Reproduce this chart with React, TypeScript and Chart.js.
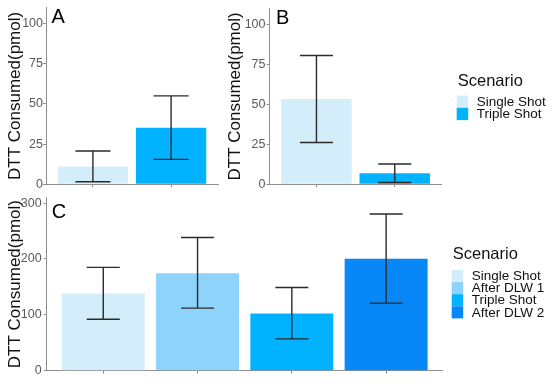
import React, { useEffect, useRef } from 'react';
import { Chart, registerables } from 'chart.js';

Chart.register(...registerables);

// ---- data ----
const scenariosAB = ['Single Shot', 'Triple Shot'];
const meanA = [11, 35.2];
const lowA = [1.6, 15.5];
const highA = [20.7, 55];

const meanB = [53.4, 6.9];
const lowB = [26.2, 1.1];
const highB = [80.6, 12.7];

const scenariosC = ['Single Shot', 'After DLW 1', 'Triple Shot', 'After DLW 2'];
const meanC = [138, 174.5, 102.5, 200.5];
const lowC = [92, 112, 57, 121];
const highC = [185, 238.5, 149, 280.5];

const ticksAB = [0, 25, 50, 75, 100];
const ticksC = [0, 100, 200, 300];

const colorsAB = ['#D4EDFB', '#00B2FF'];
const colorsC = ['#D4EDFB', '#8DD3FB', '#00B2FF', '#0888F7'];

const FONT = "'Liberation Sans', Arial, sans-serif";
const AXIS_COLOR = '#8f8f8f';

const errorBarPlugin = {
  id: 'errorBars',
  afterDatasetsDraw(chart: any, _args: any, opts: any) {
    const { ctx, scales } = chart;
    const x = scales.x;
    const y = scales.y;
    ctx.save();
    ctx.strokeStyle = opts.color;
    ctx.lineWidth = opts.lineWidth;
    opts.low.forEach((lo: number, i: number) => {
      const hi = opts.high[i];
      const px = x.getPixelForValue(i + 1);
      const pLo = y.getPixelForValue(lo);
      const pHi = y.getPixelForValue(hi);
      ctx.beginPath();
      ctx.moveTo(px, pLo);
      ctx.lineTo(px, pHi);
      ctx.moveTo(px - opts.half, pHi);
      ctx.lineTo(px + opts.half, pHi);
      ctx.moveTo(px - opts.half, pLo);
      ctx.lineTo(px + opts.half, pLo);
      ctx.stroke();
    });
    ctx.restore();
  },
};

const panelLabelPlugin = {
  id: 'panelLabel',
  afterDraw(chart: any, _args: any, opts: any) {
    const { ctx, chartArea } = chart;
    ctx.save();
    ctx.font = `20px ${FONT}`;
    ctx.fillStyle = '#000';
    ctx.textBaseline = 'alphabetic';
    ctx.textAlign = 'left';
    ctx.fillText(opts.text, chartArea.left + opts.dx, chartArea.top + opts.dy);
    ctx.restore();
  },
};

const scenarioLegendPlugin = {
  id: 'scenarioLegend',
  afterDraw(chart: any, _args: any, opts: any) {
    if (!opts.display) return;
    const { ctx, chartArea } = chart;
    const x0 = chartArea.right + opts.dx;
    ctx.save();
    ctx.fillStyle = '#111';
    ctx.textAlign = 'left';
    ctx.textBaseline = 'middle';
    ctx.font = `16.5px ${FONT}`;
    ctx.fillText(opts.title, x0 + 1, opts.titleY);
    ctx.font = `13.5px ${FONT}`;
    opts.labels.forEach((lab: string, i: number) => {
      const top = opts.rowTop + i * opts.rowH;
      ctx.fillStyle = opts.colors[i];
      ctx.fillRect(x0, top, 11.5, opts.rowH);
      ctx.fillStyle = '#111';
      ctx.fillText(lab, x0 + 20, top + opts.rowH / 2 + 0.5);
    });
    ctx.restore();
  },
};

function makeConfig(p: any) {
  const n = p.values.length;
  return {
    type: 'bar',
    data: {
      datasets: [
        {
          data: p.values.map((v: number, i: number) => ({ x: i + 1, y: v })),
          backgroundColor: p.colors,
          borderWidth: 0,
          categoryPercentage: 1,
          barPercentage: p.barPct,
        },
      ],
    },
    options: {
      responsive: false,
      animation: false,
      layout: { padding: p.padding },
      plugins: {
        legend: { display: false },
        tooltip: { enabled: false },
        errorBars: { low: p.low, high: p.high, color: '#2b2b2b', lineWidth: 1.4, half: p.half },
        panelLabel: { text: p.label, dx: p.labelDx, dy: p.labelDy },
        scenarioLegend: p.legend,
      },
      scales: {
        x: {
          type: 'linear',
          offset: false,
          min: 0.4,
          max: n + 0.6,
          afterBuildTicks: (s: any) => {
            s.ticks = p.values.map((_: number, i: number) => ({ value: i + 1 }));
          },
          ticks: { display: false },
          grid: { display: true, offset: false, drawOnChartArea: false, drawTicks: true, tickLength: 3, tickColor: AXIS_COLOR },
          border: { display: true, color: AXIS_COLOR, width: 1 },
        },
        y: {
          min: 0,
          max: p.yMax,
          afterBuildTicks: (s: any) => {
            s.ticks = p.ticks.map((v: number) => ({ value: v }));
          },
          afterFit: (s: any) => {
            s.width = p.axisWidth;
          },
          ticks: { font: { family: FONT, size: 12.5 }, color: '#5a5a5a', padding: p.tickPad },
          grid: { display: true, drawOnChartArea: false, drawTicks: true, tickLength: 3, tickColor: AXIS_COLOR },
          border: { display: true, color: AXIS_COLOR, width: 1 },
          title: {
            display: true,
            text: 'DTT Consumed(pmol)',
            font: { family: FONT, size: 17 },
            color: '#111',
            padding: { top: 5, bottom: 0 },
          },
        },
      },
    },
    plugins: [errorBarPlugin, panelLabelPlugin, scenarioLegendPlugin],
  };
}

function Panel({ left, top, width, height, params }: any) {
  const ref = useRef<HTMLCanvasElement>(null);
  useEffect(() => {
    if (!ref.current) return;
    const chart = new Chart(ref.current, makeConfig(params) as any);
    return () => chart.destroy();
  }, []);
  return (
    <canvas
      ref={ref}
      width={width}
      height={height}
      style={{ position: 'absolute', left, top, width, height, display: 'block' }}
    />
  );
}

export default function App() {
  const pA = {
    values: meanA, low: lowA, high: highA, colors: colorsAB, barPct: 0.9,
    yMax: 110, ticks: ticksAB, axisWidth: 46, tickPad: 0, half: 17.5,
    padding: { left: 0, top: 7, right: 2, bottom: 7.7 },
    label: 'A', labelDx: 5.5, labelDy: 15.7,
    legend: { display: false },
  };
  const pB = {
    values: meanB, low: lowB, high: highB, colors: colorsAB, barPct: 0.9,
    yMax: 110, ticks: ticksAB, axisWidth: 49.5, tickPad: 1, half: 16.5,
    padding: { left: 0, top: 7, right: 108.3, bottom: 7.7 },
    label: 'B', labelDx: 6.5, labelDy: 15.7,
    legend: {
      display: true, title: 'Scenario', labels: scenariosAB, colors: colorsAB,
      dx: 15, titleY: 81.5, rowTop: 95.5, rowH: 12.3,
    },
  };
  const pC = {
    values: meanC, low: lowC, high: highC, colors: colorsC, barPct: 0.88,
    yMax: 310, ticks: ticksC, axisWidth: 46.7, tickPad: 2, half: 16.5,
    padding: { left: 0, top: 5.5, right: 107.3, bottom: 9.3 },
    label: 'C', labelDx: 5, labelDy: 20,
    legend: {
      display: true, title: 'Scenario', labels: scenariosC, colors: colorsC,
      dx: 9, titleY: 66, rowTop: 82, rowH: 12.1,
    },
  };
  return (
    <div style={{ position: 'fixed', left: 0, top: 0, width: 550, height: 383, background: '#fff' }}>
      <Panel left={0} top={0} width={220} height={195} params={pA} />
      <Panel left={220} top={0} width={330} height={195} params={pB} />
      <Panel left={0} top={188} width={550} height={195} params={pC} />
    </div>
  );
}
